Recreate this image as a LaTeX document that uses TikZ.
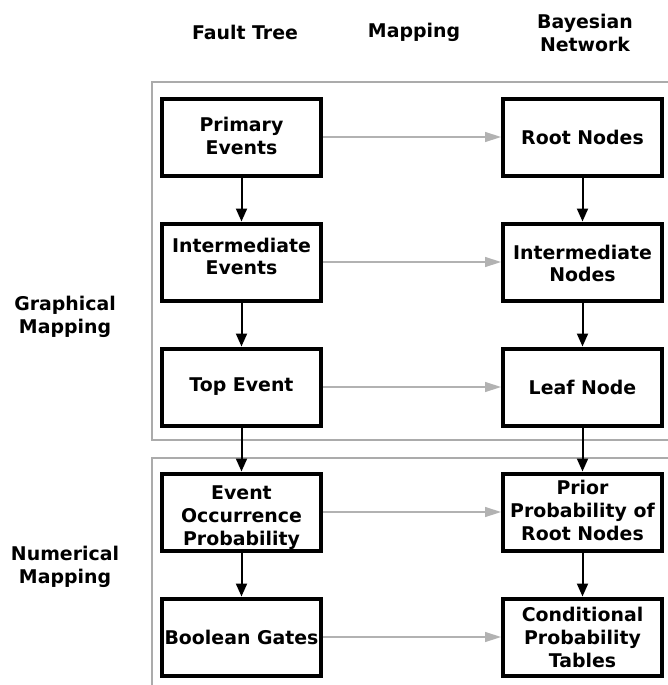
\documentclass[tikz,border=0pt]{standalone}
\usepackage{fontspec}
\setmainfont{DejaVu Sans}
\usetikzlibrary{arrows.meta}
% shift a multi-line label vertically without changing its box size
\newcommand{\shiftlines}[2]{\raisebox{#1}[\height][\depth]{\begin{tabular}{@{}c@{}}#2\end{tabular}}}
\begin{document}
\begin{tikzpicture}[x=1pt,y=-1pt,
  every node/.style={font=\bfseries\fontsize{18.9}{23}\selectfont, align=center, inner sep=0pt},
  stagebox/.style={draw=black, line width=4pt, minimum width=159pt, minimum height=77pt, fill=white},
  flow/.style={draw=black, line width=2pt, -{Triangle[length=13pt,width=11pt]}},
  maplink/.style={draw=black!30, line width=1.4pt, -{Triangle[length=16pt,width=10pt]}},
  groupframe/.style={draw=black!33, line width=1.6pt}]
  \useasboundingbox (0,0) rectangle (667,685);
  \renewcommand{\arraystretch}{0.98}

  % group frames
  \draw[groupframe] (671,82) -- (152,82) -- (152,440) -- (671,440);
  \draw[groupframe] (671,458) -- (152,458) -- (152,690);

  % column headings
  \node (hft) at (245,32) {Fault Tree};
  \node (hmap) at (414,32) {Mapping};
  \node (hbn) at (585,33) {Bayesian\\Network};

  % group labels
  \node (gm) at (65,317) {Graphical\\Mapping};
  \node (nm) at (65,567) {Numerical\\Mapping};

  % fault tree column
  \node[stagebox] (pe) at (241.5,137) {\shiftlines{-1.5pt}{Primary\\Events}};
  \node[stagebox] (ie) at (241.5,262) {\shiftlines{3pt}{Intermediate\\Events}};
  \node[stagebox] (te) at (241.5,387) {Top Event};
  \node[stagebox] (eo) at (241.5,512) {\shiftlines{-6pt}{Event\\Occurrence\\Probability}};
  \node[stagebox] (bg) at (241.5,637) {Boolean Gates};

  % bayesian network column
  \node[stagebox] (rn) at (582.5,137) {Root Nodes};
  \node[stagebox] (in) at (582.5,262) {\shiftlines{-4pt}{Intermediate\\Nodes}};
  \node[stagebox] (ln) at (582.5,387) {Leaf Node};
  \node[stagebox] (pp) at (582.5,512) {\shiftlines{-1pt}{Prior\\Probability of\\Root Nodes}};
  \node[stagebox] (cp) at (582.5,637) {Conditional\\Probability\\Tables};

  % vertical flow
  \draw[flow] (pe) -- (ie);
  \draw[flow] (ie) -- (te);
  \draw[flow] (te) -- (eo);
  \draw[flow] (eo) -- (bg);
  \draw[flow] (rn) -- (in);
  \draw[flow] (in) -- (ln);
  \draw[flow] (ln) -- (pp);
  \draw[flow] (pp) -- (cp);

  % mapping links
  \draw[maplink] (pe) -- (rn);
  \draw[maplink] (ie) -- (in);
  \draw[maplink] (te) -- (ln);
  \draw[maplink] (eo) -- (pp);
  \draw[maplink] (bg) -- (cp);
\end{tikzpicture}
\end{document}
